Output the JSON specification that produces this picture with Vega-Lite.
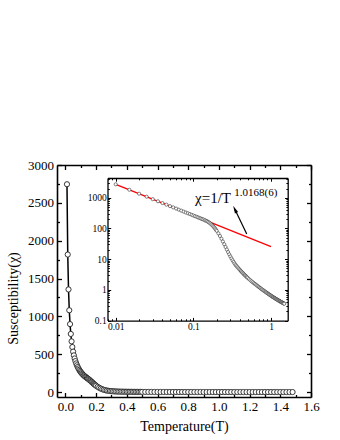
{
  "$schema": "https://vega.github.io/schema/vega-lite/v6.json",
  "width": 254,
  "height": 232,
  "autosize": {"type": "none"},
  "padding": {"left": 57, "top": 165, "right": 29, "bottom": 43},
  "background": "white",
  "config": {
    "view": {"stroke": null},
    "font": "Liberation Serif",
    "axis": {
      "grid": false,
      "domainColor": "black",
      "tickColor": "black",
      "labelColor": "black",
      "titleColor": "black",
      "labelFont": "Liberation Serif",
      "titleFont": "Liberation Serif",
      "titleFontWeight": "normal",
      "labelFlush": false,
      "labelOverlap": false,
      "labelBound": false
    }
  },
  "datasets": {
    "chi": [
      {"T": 0.01, "chi": 2746}, {"T": 0.015, "chi": 1817}, {"T": 0.02, "chi": 1356}, {"T": 0.025, "chi": 1081},
      {"T": 0.03, "chi": 898}, {"T": 0.035, "chi": 768}, {"T": 0.04, "chi": 670}, {"T": 0.045, "chi": 595},
      {"T": 0.05, "chi": 534}, {"T": 0.055, "chi": 485}, {"T": 0.06, "chi": 444}, {"T": 0.065, "chi": 409},
      {"T": 0.07, "chi": 379}, {"T": 0.075, "chi": 354}, {"T": 0.08, "chi": 331}, {"T": 0.085, "chi": 312},
      {"T": 0.09, "chi": 294}, {"T": 0.095, "chi": 278}, {"T": 0.1, "chi": 264}, {"T": 0.105, "chi": 251},
      {"T": 0.11, "chi": 240}, {"T": 0.115, "chi": 229}, {"T": 0.12, "chi": 219}, {"T": 0.125, "chi": 210},
      {"T": 0.13, "chi": 202}, {"T": 0.135, "chi": 195}, {"T": 0.14, "chi": 186}, {"T": 0.145, "chi": 179},
      {"T": 0.15, "chi": 172}, {"T": 0.155, "chi": 163.7}, {"T": 0.16, "chi": 154.9}, {"T": 0.165, "chi": 145.5},
      {"T": 0.17, "chi": 136.1}, {"T": 0.175, "chi": 126.8}, {"T": 0.18, "chi": 117.5}, {"T": 0.185, "chi": 108.6},
      {"T": 0.19, "chi": 100}, {"T": 0.195, "chi": 91.6}, {"T": 0.2, "chi": 83.6}, {"T": 0.21, "chi": 69.0},
      {"T": 0.22, "chi": 56.8}, {"T": 0.23, "chi": 46.2}, {"T": 0.24, "chi": 37.5}, {"T": 0.25, "chi": 30.5},
      {"T": 0.26, "chi": 24.9}, {"T": 0.27, "chi": 20.5}, {"T": 0.28, "chi": 17.0}, {"T": 0.29, "chi": 14.3},
      {"T": 0.3, "chi": 12.2}, {"T": 0.31, "chi": 10.5}, {"T": 0.32, "chi": 9.18}, {"T": 0.33, "chi": 8.09},
      {"T": 0.34, "chi": 7.19}, {"T": 0.35, "chi": 6.46}, {"T": 0.36, "chi": 5.94}, {"T": 0.37, "chi": 5.48},
      {"T": 0.38, "chi": 5.07}, {"T": 0.39, "chi": 4.70}, {"T": 0.4, "chi": 4.37}, {"T": 0.41, "chi": 4.08},
      {"T": 0.42, "chi": 3.83}, {"T": 0.43, "chi": 3.59}, {"T": 0.44, "chi": 3.37}, {"T": 0.45, "chi": 3.18},
      {"T": 0.46, "chi": 3.01}, {"T": 0.47, "chi": 2.86}, {"T": 0.48, "chi": 2.71}, {"T": 0.49, "chi": 2.58},
      {"T": 0.5, "chi": 2.45}, {"T": 0.52, "chi": 2.24}, {"T": 0.54, "chi": 2.07}, {"T": 0.56, "chi": 1.91},
      {"T": 0.58, "chi": 1.78}, {"T": 0.6, "chi": 1.66}, {"T": 0.62, "chi": 1.56}, {"T": 0.64, "chi": 1.47},
      {"T": 0.66, "chi": 1.38}, {"T": 0.68, "chi": 1.30}, {"T": 0.7, "chi": 1.23}, {"T": 0.72, "chi": 1.165},
      {"T": 0.74, "chi": 1.104}, {"T": 0.76, "chi": 1.049}, {"T": 0.78, "chi": 1.0}, {"T": 0.8, "chi": 0.955},
      {"T": 0.82, "chi": 0.912}, {"T": 0.84, "chi": 0.873}, {"T": 0.86, "chi": 0.838}, {"T": 0.88, "chi": 0.804},
      {"T": 0.9, "chi": 0.773}, {"T": 0.92, "chi": 0.743}, {"T": 0.94, "chi": 0.716}, {"T": 0.96, "chi": 0.69},
      {"T": 0.98, "chi": 0.667}, {"T": 1.0, "chi": 0.644}, {"T": 1.02, "chi": 0.622}, {"T": 1.04, "chi": 0.603},
      {"T": 1.06, "chi": 0.583}, {"T": 1.08, "chi": 0.566}, {"T": 1.1, "chi": 0.549}, {"T": 1.12, "chi": 0.533},
      {"T": 1.14, "chi": 0.519}, {"T": 1.16, "chi": 0.505}, {"T": 1.18, "chi": 0.491}, {"T": 1.2, "chi": 0.479},
      {"T": 1.22, "chi": 0.467}, {"T": 1.24, "chi": 0.455}, {"T": 1.26, "chi": 0.445}, {"T": 1.28, "chi": 0.435},
      {"T": 1.3, "chi": 0.425}, {"T": 1.32, "chi": 0.415}, {"T": 1.34, "chi": 0.406}, {"T": 1.36, "chi": 0.398},
      {"T": 1.38, "chi": 0.39}, {"T": 1.4, "chi": 0.382}, {"T": 1.42, "chi": 0.374}, {"T": 1.44, "chi": 0.366},
      {"T": 1.46, "chi": 0.36}, {"T": 1.48, "chi": 0.353}
    ],
    "fit": [{"T": 0.01, "chi": 2746}, {"T": 1.0, "chi": 25.4}]
  },
  "layer": [
    {
      "data": {"name": "chi"},
      "mark": {"type": "line", "color": "black", "strokeWidth": 1.5},
      "encoding": {
        "x": {
          "field": "T", "type": "quantitative",
          "scale": {"domain": [-0.055, 1.6], "nice": false, "zero": false},
          "axis": {
            "orient": "top", "title": null, "labels": false,
            "values": [0, 0.1, 0.2, 0.3, 0.4, 0.5, 0.6, 0.7, 0.8, 0.9, 1, 1.1, 1.2, 1.3, 1.4, 1.5, 1.6],
            "domainWidth": 1.6, "tickWidth": 1.3,
            "tickSize": {"condition": {"test": "abs(datum.value*5-round(datum.value*5))<0.01", "value": -4.5}, "value": -2.5}
          }
        },
        "y": {
          "field": "chi", "type": "quantitative",
          "scale": {"domain": [-65, 3000], "nice": false, "zero": false},
          "axis": {
            "orient": "right", "title": null, "labels": false,
            "values": [0, 250, 500, 750, 1000, 1250, 1500, 1750, 2000, 2250, 2500, 2750, 3000],
            "domainWidth": 1.6, "tickWidth": 1.3,
            "tickSize": {"condition": {"test": "datum.value % 500 == 0", "value": -4.5}, "value": -2.5}
          }
        }
      }
    },
    {
      "data": {"name": "chi"},
      "mark": {"type": "point", "shape": "circle", "filled": true, "fill": "white", "stroke": "#222222", "strokeWidth": 0.9, "size": 27, "opacity": 1},
      "encoding": {
        "x": {
          "field": "T", "type": "quantitative",
          "scale": {"domain": [-0.055, 1.6], "nice": false, "zero": false},
          "axis": {
            "orient": "bottom", "title": "Temperature(T)", "titleFontSize": 14, "titleY": 22, "titleBaseline": "top",
            "values": [0, 0.1, 0.2, 0.3, 0.4, 0.5, 0.6, 0.7, 0.8, 0.9, 1, 1.1, 1.2, 1.3, 1.4, 1.5, 1.6],
            "format": ".1f",
            "labelExpr": "abs(datum.value*5-round(datum.value*5))<0.01 ? datum.label : ''",
            "labelFontSize": 13, "labelPadding": 8,
            "domainWidth": 1.6, "tickWidth": 1.3,
            "tickSize": {"condition": {"test": "abs(datum.value*5-round(datum.value*5))<0.01", "value": -4.5}, "value": -2.5}
          }
        },
        "y": {
          "field": "chi", "type": "quantitative",
          "scale": {"domain": [-65, 3000], "nice": false, "zero": false},
          "axis": {
            "orient": "left", "title": "Susceptibility(χ)", "titleFontSize": 14, "titleX": -44, "titleY": 133, "titleBaseline": "middle",
            "values": [0, 250, 500, 750, 1000, 1250, 1500, 1750, 2000, 2250, 2500, 2750, 3000],
            "format": "d",
            "labelExpr": "datum.value % 500 == 0 ? datum.label : ''",
            "labelFontSize": 13, "labelPadding": 8,
            "domainWidth": 1.6, "tickWidth": 1.3,
            "tickSize": {"condition": {"test": "datum.value % 500 == 0", "value": -4.5}, "value": -2.5}
          }
        }
      }
    },
    {
      "data": {"name": "fit"},
      "mark": {"type": "line", "color": "#ff0000", "strokeWidth": 1.3},
      "encoding": {
        "x": {
          "field": "T", "type": "quantitative",
          "scale": {"type": "log", "domain": [0.00784, 1.64], "range": [50.5, 230.7], "nice": false},
          "axis": {
            "orient": "top", "offset": -13, "title": null, "labels": false,
            "values": [0.008, 0.009, 0.01, 0.02, 0.03, 0.04, 0.05, 0.06, 0.07, 0.08, 0.09, 0.1, 0.2, 0.3, 0.4, 0.5, 0.6, 0.7, 0.8, 0.9, 1],
            "domainWidth": 1.3, "tickWidth": 1,
            "tickSize": {"condition": {"test": "abs(log(datum.value)/LN10-round(log(datum.value)/LN10))<0.001", "value": -3.2}, "value": -1.8}
          }
        },
        "y": {
          "field": "chi", "type": "quantitative",
          "scale": {"type": "log", "domain": [0.0995, 4400], "range": [155.6, 13], "nice": false},
          "axis": {
            "orient": "right", "offset": -23.3, "title": null, "labels": false,
            "values": [0.1, 0.2, 0.3, 0.4, 0.5, 0.6, 0.7, 0.8, 0.9, 1, 2, 3, 4, 5, 6, 7, 8, 9, 10, 20, 30, 40, 50, 60, 70, 80, 90, 100, 200, 300, 400, 500, 600, 700, 800, 900, 1000, 2000, 3000, 4000],
            "domainWidth": 1.3, "tickWidth": 1,
            "tickSize": {"condition": {"test": "abs(log(datum.value)/LN10-round(log(datum.value)/LN10))<0.001", "value": -3.2}, "value": -1.8}
          }
        }
      }
    },
    {
      "data": {"name": "chi"},
      "mark": {"type": "point", "shape": "circle", "filled": true, "fill": "white", "stroke": "#333333", "strokeWidth": 0.6, "size": 10, "opacity": 1},
      "encoding": {
        "x": {
          "field": "T", "type": "quantitative",
          "scale": {"type": "log", "domain": [0.00784, 1.64], "range": [50.5, 230.7], "nice": false},
          "axis": {
            "orient": "bottom", "offset": -76.4, "title": null,
            "values": [0.008, 0.009, 0.01, 0.02, 0.03, 0.04, 0.05, 0.06, 0.07, 0.08, 0.09, 0.1, 0.2, 0.3, 0.4, 0.5, 0.6, 0.7, 0.8, 0.9, 1],
            "labelExpr": "abs(log(datum.value)/LN10-round(log(datum.value)/LN10))<0.001 ? format(datum.value, '~g') : ''",
            "labelFontSize": 9.5, "labelPadding": 4.5,
            "domainWidth": 1.3, "tickWidth": 1,
            "tickSize": {"condition": {"test": "abs(log(datum.value)/LN10-round(log(datum.value)/LN10))<0.001", "value": -3.2}, "value": -1.8}
          }
        },
        "y": {
          "field": "chi", "type": "quantitative",
          "scale": {"type": "log", "domain": [0.0995, 4400], "range": [155.6, 13], "nice": false},
          "axis": {
            "orient": "left", "offset": -50.5, "title": null,
            "values": [0.1, 0.2, 0.3, 0.4, 0.5, 0.6, 0.7, 0.8, 0.9, 1, 2, 3, 4, 5, 6, 7, 8, 9, 10, 20, 30, 40, 50, 60, 70, 80, 90, 100, 200, 300, 400, 500, 600, 700, 800, 900, 1000, 2000, 3000, 4000],
            "labelExpr": "abs(log(datum.value)/LN10-round(log(datum.value)/LN10))<0.001 ? format(datum.value, '~g') : ''",
            "labelFontSize": 9.5, "labelPadding": 4.5,
            "domainWidth": 1.3, "tickWidth": 1,
            "tickSize": {"condition": {"test": "abs(log(datum.value)/LN10-round(log(datum.value)/LN10))<0.001", "value": -3.2}, "value": -1.8}
          }
        }
      }
    },
    {
      "data": {"values": [{"T": 0.487, "chi": 65.7, "T2": 0.342, "chi2": 422}]},
      "mark": {"type": "rule", "color": "black", "strokeWidth": 1.2},
      "encoding": {
        "x": {"field": "T", "type": "quantitative", "scale": {"type": "log", "domain": [0.00784, 1.64], "range": [50.5, 230.7], "nice": false}, "axis": null},
        "x2": {"field": "T2"},
        "y": {"field": "chi", "type": "quantitative", "scale": {"type": "log", "domain": [0.0995, 4400], "range": [155.6, 13], "nice": false}, "axis": null},
        "y2": {"field": "chi2"}
      }
    },
    {
      "data": {"values": [{"T": 0.342, "chi": 422}]},
      "mark": {"type": "point", "shape": "M0,-1L0.45,1L-0.45,1Z", "filled": true, "color": "black", "opacity": 1, "size": 60, "angle": 334},
      "encoding": {
        "x": {"field": "T", "type": "quantitative", "scale": {"type": "log", "domain": [0.00784, 1.64], "range": [50.5, 230.7], "nice": false}, "axis": null},
        "y": {"field": "chi", "type": "quantitative", "scale": {"type": "log", "domain": [0.0995, 4400], "range": [155.6, 13], "nice": false}, "axis": null}
      }
    },
    {
      "data": {"values": [{"T": 0.1051, "chi": 657, "label": "χ=1/T"}]},
      "mark": {"type": "text", "align": "left", "baseline": "alphabetic", "fontSize": 15, "font": "Liberation Serif", "color": "black"},
      "encoding": {
        "x": {"field": "T", "type": "quantitative", "scale": {"type": "log", "domain": [0.00784, 1.64], "range": [50.5, 230.7], "nice": false}, "axis": null},
        "y": {"field": "chi", "type": "quantitative", "scale": {"type": "log", "domain": [0.0995, 4400], "range": [155.6, 13], "nice": false}, "axis": null},
        "text": {"field": "label"}
      }
    },
    {
      "data": {"values": [{"T": 0.337, "chi": 1136, "label": "1.0168(6)"}]},
      "mark": {"type": "text", "align": "left", "baseline": "alphabetic", "fontSize": 11, "font": "Liberation Serif", "color": "black"},
      "encoding": {
        "x": {"field": "T", "type": "quantitative", "scale": {"type": "log", "domain": [0.00784, 1.64], "range": [50.5, 230.7], "nice": false}, "axis": null},
        "y": {"field": "chi", "type": "quantitative", "scale": {"type": "log", "domain": [0.0995, 4400], "range": [155.6, 13], "nice": false}, "axis": null},
        "text": {"field": "label"}
      }
    }
  ],
  "resolve": {
    "scale": {"x": "independent", "y": "independent"},
    "axis": {"x": "independent", "y": "independent"}
  }
}
